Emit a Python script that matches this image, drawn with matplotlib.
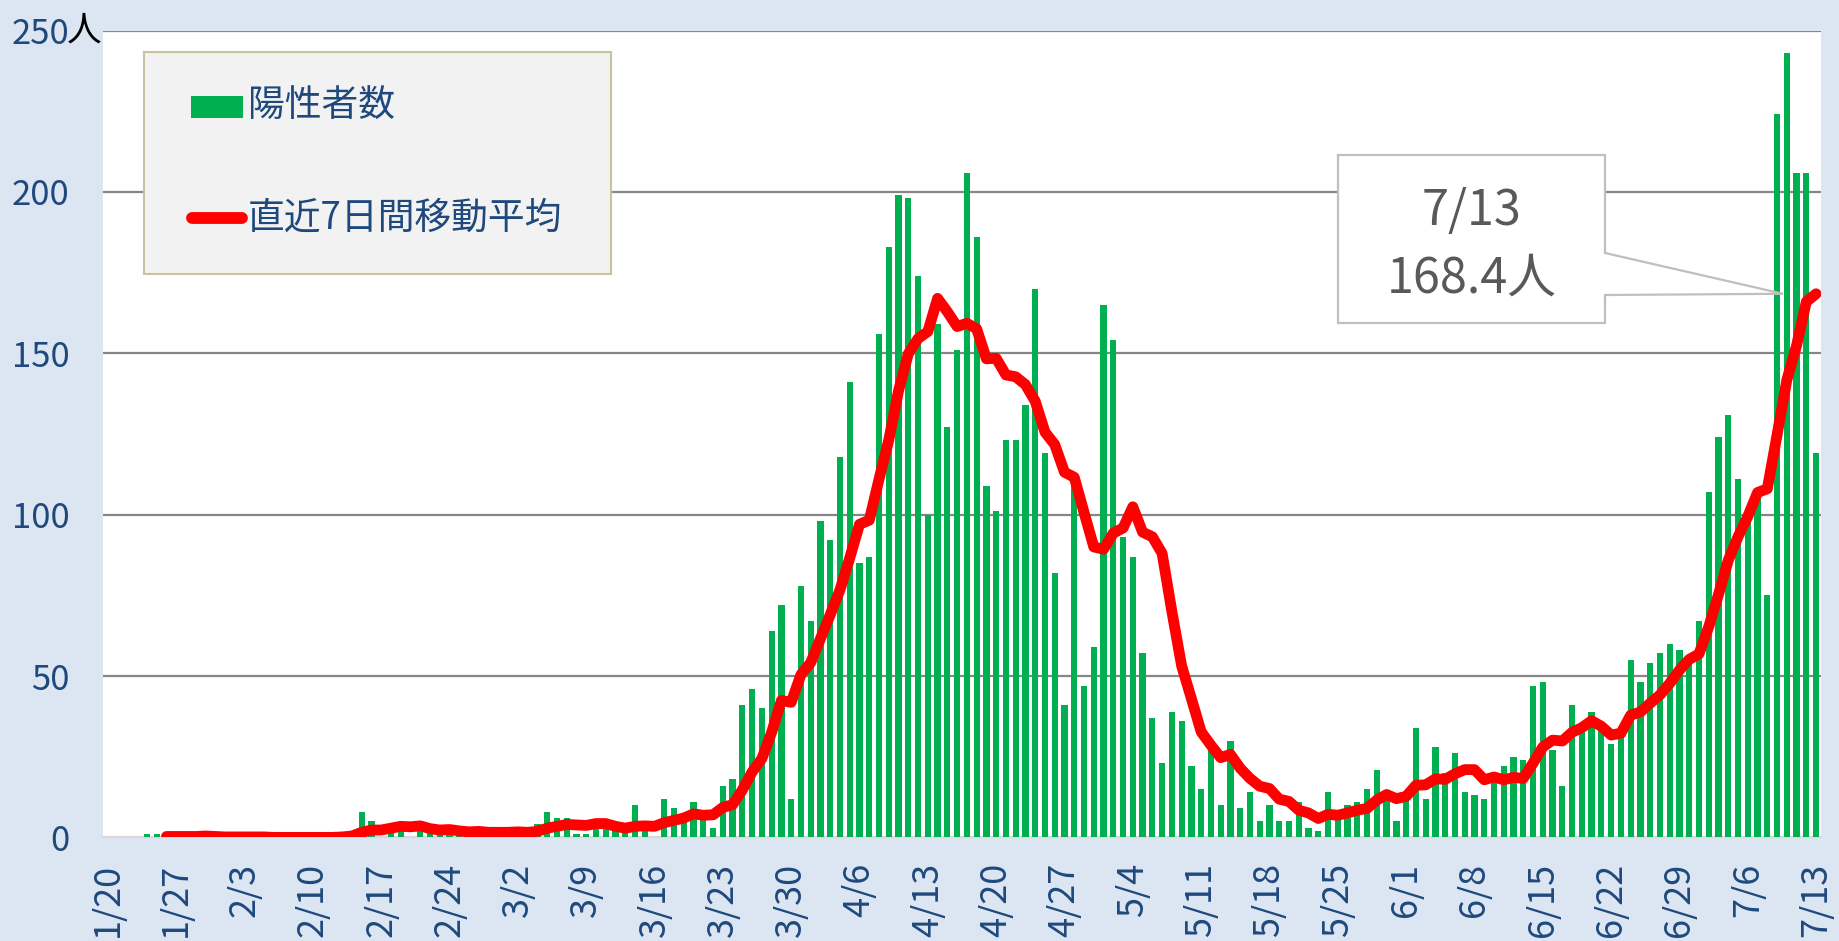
import matplotlib
matplotlib.use("Agg")
import matplotlib.pyplot as plt
import matplotlib.patches as mpatches
import numpy as np
import pandas as pd

plt.rcParams['font.family'] = ['Noto Sans CJK JP', 'DejaVu Sans']

# ---- data (daily new positives, 1/20 .. 7/13) ----
jan = [0, 0, 0, 0, 1, 1, 0, 0, 0, 0, 1, 0]                       # 1/20-1/31
feb = [0] * 12 + [1, 2, 8, 5, 0, 4, 4, 0, 4, 2, 2, 1, 1, 2, 1, 2, 2]  # 2/1-2/29
mar = [2, 2, 0, 4, 8, 6, 6, 1, 1, 4, 4, 2, 2, 10, 2, 0, 12, 9, 7, 11, 7, 3,
       16, 18, 41, 46, 40, 64, 72, 12, 78]
apr = [67, 98, 92, 118, 141, 85, 87, 156, 183, 199, 198, 174, 100, 159, 127,
       151, 206, 186, 109, 101, 123, 123, 134, 170, 119, 82, 41, 112, 47, 59]
may = [165, 154, 93, 87, 57, 37, 23, 39, 36, 22, 15, 28, 10, 30, 9, 14, 5, 10,
       5, 5, 11, 3, 2, 14, 8, 10, 11, 15, 21, 14, 5]
jun = [13, 34, 12, 28, 20, 26, 14, 13, 12, 18, 22, 25, 24, 47, 48, 27, 16, 41,
       35, 39, 35, 29, 31, 55, 48, 54, 57, 60, 58, 54]
jul = [67, 107, 124, 131, 111, 102, 106, 75, 224, 243, 206, 206, 119]

cases = jan + feb + mar + apr + may + jun + jul
dates = pd.date_range("2020-01-20", periods=len(cases), freq="D")
date_labels = [f"{d.month}/{d.day}" for d in dates]
tick_idx = list(range(0, len(cases), 7))
tick_labels = [date_labels[i] for i in tick_idx]
yticks = [0, 50, 100, 150, 200, 250]

ma = pd.Series(cases, dtype=float).rolling(7).mean()

legend_bar = "陽性者数"
legend_line = "直近7日間移動平均"
callout_date = date_labels[-1]
callout_value = f"{ma.iloc[-1]:.1f}人"

# ---- styling ----
W, H = 1839, 941
BG = "#DCE6F2"
TXT = "#1F497D"
GREEN = "#00B050"
RED = "#FF0000"

fig = plt.figure(figsize=(W / 100, H / 100), dpi=100, facecolor=BG)
L, R, T, B = 103, 1821, 30.5, 837.4
ax = fig.add_axes([L / W, 1 - B / H, (R - L) / W, (B - T) / H])
ax.set_facecolor("white")

x = np.arange(len(cases))
ax.bar(x, cases, width=0.64, color=GREEN, zorder=2, linewidth=0)
ax.plot(x[6:], ma.values[6:], color=RED, lw=7.8, solid_capstyle="round",
        solid_joinstyle="round", zorder=3)

ax.set_xlim(-0.5, len(cases) - 0.5)
ax.set_ylim(0, 250)
ax.set_yticks(yticks)
ax.set_yticklabels([str(v) for v in yticks])
ax.set_xticks(tick_idx)
ax.set_xticklabels(tick_labels, rotation=90)
ax.tick_params(axis="y", length=0, pad=24, labelsize=25, labelcolor=TXT)
ax.tick_params(axis="x", length=0, pad=18, labelsize=26, labelcolor=TXT)
for t in ax.get_xticklabels():
    t.set_va("top")

for v in yticks[1:]:
    ax.axhline(v, color="#868686", lw=1.6, zorder=1)
for s in ["top", "right", "left"]:
    ax.spines[s].set_visible(False)
ax.spines["bottom"].set_color("#D9D9D9")
ax.spines["bottom"].set_linewidth(1.6)
ax.spines["bottom"].set_zorder(1)

# "人" unit after the top tick label
fig.text(67 / W, 1 - 31 / H, "人", fontsize=25, color="black",
         ha="left", va="center")

# ---- legend box ----
def axf(px, py):
    return ((px - L) / (R - L), (B - py) / (B - T))

x0, y0 = axf(144, 274)
x1, y1 = axf(611, 52)
ax.add_patch(mpatches.Rectangle((x0, y0), x1 - x0, y1 - y0, transform=ax.transAxes,
                                facecolor="#F2F2F2", edgecolor="#C9C29F", lw=1.5,
                                zorder=5))
gx0, gy0 = axf(191, 118)
gx1, gy1 = axf(243, 96)
ax.add_patch(mpatches.Rectangle((gx0, gy0), gx1 - gx0, gy1 - gy0,
                                transform=ax.transAxes, facecolor=GREEN,
                                edgecolor="none", zorder=6))
lx0, ly = axf(192, 218)
lx1, _ = axf(242, 218)
ax.plot([lx0, lx1], [ly, ly], transform=ax.transAxes, color=RED, lw=8.5,
        solid_capstyle="round", zorder=6)
tx, ty = axf(248, 105)
ax.text(tx, ty, legend_bar, transform=ax.transAxes, fontsize=26.5, color=TXT,
        ha="left", va="center", zorder=7)
tx, ty = axf(248, 218)
ax.text(tx, ty, legend_line, transform=ax.transAxes, fontsize=26.5, color=TXT,
        ha="left", va="center", zorder=7)

# ---- callout ----
bx0, by1 = axf(1338, 155)
bx1, by0 = axf(1605, 323)
_, ny_top = axf(1605, 253)
_, ny_bot = axf(1605, 295)
tip_data = (len(cases) - 1 - 3.4, ma.iloc[-1])
tip_axes = ax.transAxes.inverted().transform(ax.transData.transform(tip_data))
poly = [(bx0, by1), (bx1, by1), (bx1, ny_top), tuple(tip_axes), (bx1, ny_bot),
        (bx1, by0), (bx0, by0)]
ax.add_patch(mpatches.Polygon(poly, closed=True, transform=ax.transAxes,
                              facecolor="white", edgecolor="#BFBFBF", lw=1.6,
                              zorder=8, clip_on=False))
cx, cy = axf(1472, 211)
ax.text(cx, cy, callout_date, transform=ax.transAxes, fontsize=35,
        color="#595959", ha="center", va="center", zorder=9)
cx, cy = axf(1472, 279)
ax.text(cx, cy, callout_value, transform=ax.transAxes, fontsize=35,
        color="#595959", ha="center", va="center", zorder=9)

fig.savefig("out.png", dpi=100, facecolor=BG)
